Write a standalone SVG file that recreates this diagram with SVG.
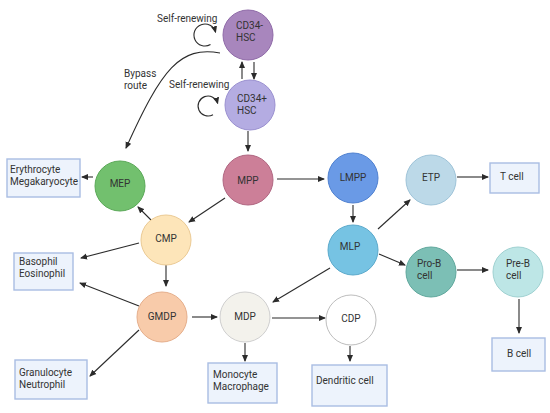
<svg xmlns="http://www.w3.org/2000/svg" width="550" height="413" viewBox="0 0 550 413">
<defs>
<marker id="ah" markerUnits="userSpaceOnUse" markerWidth="7" markerHeight="7" refX="6" refY="3.5" orient="auto">
<path d="M0,0.5 L7,3.5 L0,6.5 z" fill="#2b2b2b"/>
</marker>
</defs>
<style>
text{font-family:Roboto,"Liberation Sans",sans-serif;font-size:10px;fill:#333}
.c{text-anchor:middle}
.box{fill:#edf3fc;stroke:#a9bde3;stroke-width:1.4}
#connectors path,#connectors line{fill:none;stroke:#2b2b2b;stroke-width:1.1;marker-end:url(#ah)}
</style>
<rect width="550" height="413" fill="#fff"/>
<g id="connectors">
<path d="M210.5 44.5 A11 11 0 1 1 215.6 32.2"/>
<path d="M213 114.7 A10 10 0 1 1 217.7 103.4"/>
<path d="M220 53 C180 46 162 68 126 148"/>
<line x1="242" y1="79" x2="242" y2="62"/>
<line x1="254" y1="62" x2="254" y2="79"/>
<line x1="248" y1="131" x2="248" y2="151"/>
<line x1="93" y1="177" x2="82" y2="177"/>
<line x1="225" y1="198" x2="189" y2="222"/>
<line x1="151" y1="220" x2="138" y2="207"/>
<line x1="139" y1="243" x2="81" y2="258"/>
<line x1="166" y1="265" x2="166" y2="286"/>
<line x1="139" y1="306" x2="80" y2="283"/>
<line x1="139" y1="330" x2="90" y2="376"/>
<line x1="192" y1="317" x2="217" y2="317"/>
<line x1="245" y1="343" x2="245" y2="361"/>
<line x1="272" y1="318" x2="325" y2="318"/>
<line x1="350" y1="346" x2="350" y2="361"/>
<line x1="277" y1="179" x2="324" y2="179"/>
<line x1="353" y1="205" x2="353" y2="222"/>
<line x1="378" y1="229" x2="410" y2="200"/>
<line x1="457" y1="177" x2="488" y2="177"/>
<line x1="379" y1="254" x2="405" y2="265"/>
<line x1="330" y1="268" x2="273" y2="302"/>
<line x1="457" y1="270" x2="488" y2="270"/>
<line x1="519" y1="299" x2="519" y2="333"/>
</g>
<text x="157" y="22">Self-renewing</text>
<text x="169" y="88">Self-renewing</text>
<text x="124" y="77">Bypass</text>
<text x="124" y="89">route</text>
<g id="cd34neg"><circle cx="248" cy="35" r="25" fill="#a886bd" stroke="#8f6aa8"/><text x="236" y="29">CD34-</text><text x="236" y="41">HSC</text></g>
<g id="cd34pos"><circle cx="250" cy="105" r="25" fill="#b4ace2" stroke="#9a90d0"/><text x="237" y="102">CD34+</text><text x="237" y="114">HSC</text></g>
<g id="mpp"><circle cx="248" cy="180" r="25" fill="#cc7f98" stroke="#b06681"/><text class="c" x="248" y="184">MPP</text></g>
<g id="mep"><circle cx="120" cy="186" r="25" fill="#72c06e" stroke="#5aa857"/><text class="c" x="120" y="187">MEP</text></g>
<g id="cmp"><circle cx="166" cy="240" r="25" fill="#fde5b9" stroke="#ebca94"/><text class="c" x="166" y="242">CMP</text></g>
<g id="gmdp"><circle cx="162" cy="317" r="25" fill="#f8cbaa" stroke="#e5ae8b"/><text class="c" x="162" y="320">GMDP</text></g>
<g id="mdp"><circle cx="245" cy="317" r="25" fill="#f3f2ec" stroke="#cfcfcf"/><text class="c" x="245" y="320">MDP</text></g>
<g id="cdp"><circle cx="351" cy="320" r="25" fill="#ffffff" stroke="#bdbdbd"/><text class="c" x="351" y="322">CDP</text></g>
<g id="lmpp"><circle cx="353" cy="178" r="25" fill="#6a9ae6" stroke="#4e80d0"/><text class="c" x="353" y="181">LMPP</text></g>
<g id="mlp"><circle cx="353" cy="250" r="25" fill="#76c3e3" stroke="#5aa9cb"/><text class="c" x="350" y="250">MLP</text></g>
<g id="etp"><circle cx="431" cy="180" r="25" fill="#bcd9e8" stroke="#9ec3d8"/><text class="c" x="431" y="181">ETP</text></g>
<g id="prob"><circle cx="431" cy="272" r="25" fill="#7cbfb5" stroke="#5fa79c"/><text x="417" y="267">Pro-B</text><text x="417" y="279">cell</text></g>
<g id="preb"><circle cx="518" cy="272" r="25" fill="#bde6e6" stroke="#9fd1d1"/><text x="506" y="267">Pre-B</text><text x="506" y="279">cell</text></g>
<g id="ery"><rect class="box" x="7" y="159" width="73" height="38"/><text x="10" y="173">Erythrocyte</text><text x="10" y="185">Megakaryocyte</text></g>
<g id="baso"><rect class="box" x="14" y="253" width="59" height="37"/><text x="19" y="265">Basophil</text><text x="19" y="277">Eosinophil</text></g>
<g id="gran"><rect class="box" x="15" y="360" width="72" height="39"/><text x="19" y="376">Granulocyte</text><text x="19" y="388">Neutrophil</text></g>
<g id="mono"><rect class="box" x="208" y="363" width="69" height="40"/><text x="213" y="378">Monocyte</text><text x="213" y="390">Macrophage</text></g>
<g id="dend"><rect class="box" x="312" y="365" width="75" height="41"/><text x="316" y="384">Dendritic cell</text></g>
<g id="tcell"><rect class="box" x="490" y="163" width="49" height="30"/><text x="500" y="180">T cell</text></g>
<g id="bcell"><rect class="box" x="492" y="338" width="53" height="33"/><text x="507" y="357">B cell</text></g>
</svg>
